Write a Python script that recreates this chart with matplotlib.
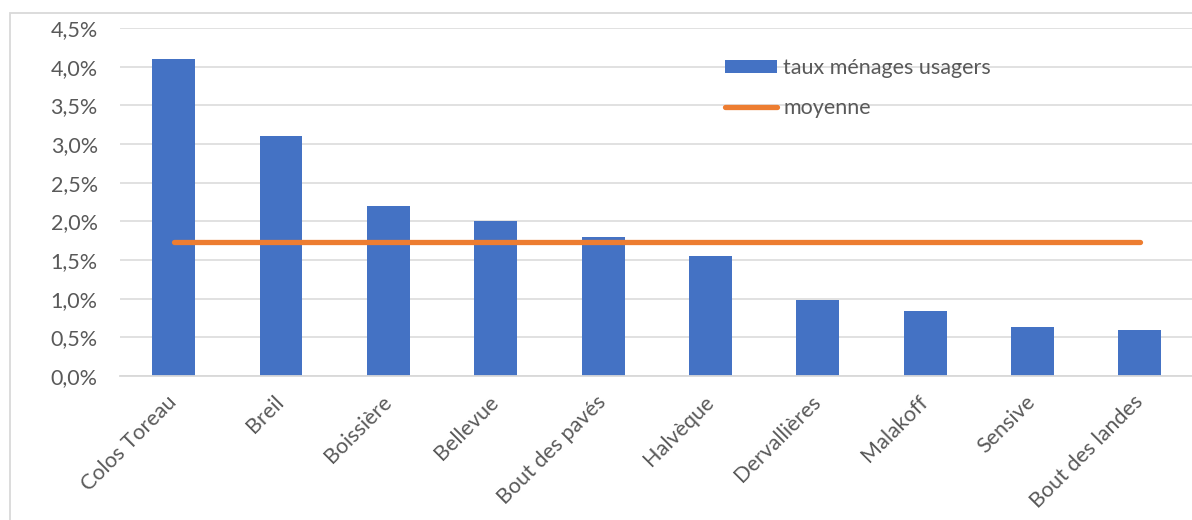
import matplotlib
matplotlib.use("Agg")
import matplotlib.pyplot as plt
from matplotlib.patches import Rectangle
from matplotlib.ticker import FuncFormatter
from matplotlib.transforms import ScaledTranslation

categories = ["Colos Toreau", "Breil", "Boissière", "Bellevue", "Bout des pavés",
              "Halvèque", "Dervallières", "Malakoff", "Sensive", "Bout des landes"]
taux = [4.10, 3.10, 2.20, 2.00, 1.80, 1.55, 0.98, 0.845, 0.64, 0.59]
moyenne = [1.73, 1.73, 1.73, 1.73, 1.73, 1.73, 1.73, 1.73, 1.73, 1.73]
yticks = [0.0, 0.5, 1.0, 1.5, 2.0, 2.5, 3.0, 3.5, 4.0, 4.5]

plt.rcParams['font.family'] = ['Lato', 'DejaVu Sans']
W, H = 1192, 520
AX_L, AX_R, AX_T, AX_B = 120, 1193.5, 28, 376
fig = plt.figure(figsize=(W / 100, H / 100), dpi=100)
ax = fig.add_axes([AX_L / W, 1 - AX_B / H, (AX_R - AX_L) / W, (AX_B - AX_T) / H])

FS = 15.5
x = list(range(len(categories)))
bars = ax.bar(x, taux, width=0.4, color="#4472C4", label="taux ménages usagers", zorder=2)
line, = ax.plot(x, moyenne, color="#ED7D31", linewidth=3.8, solid_capstyle="round",
                label="moyenne", zorder=3)

ax.set_xlim(-0.5, len(categories) - 0.5)
ax.set_ylim(0, 4.5)
ax.set_yticks(yticks)
ax.yaxis.set_major_formatter(FuncFormatter(lambda v, p: f"{v:.1f}%".replace(".", ",")))
ax.grid(axis="y", color="#D9D9D9", linewidth=1.1, zorder=0)
ax.set_axisbelow(True)
for s in ["top", "right", "left"]:
    ax.spines[s].set_visible(False)
ax.spines["bottom"].set_color("#D9D9D9")
ax.spines["bottom"].set_linewidth(1.3)

ax.set_xticks(x)
ax.set_xticklabels(categories, rotation=45, ha="right", rotation_mode="default")
ax.tick_params(axis="both", length=0, labelsize=FS, labelcolor="#595959")
ax.tick_params(axis="x", pad=10)
ax.tick_params(axis="y", pad=16)
off = ScaledTranslation(7 / 100, -2 / 100, fig.dpi_scale_trans)
for lbl in ax.get_xticklabels():
    lbl.set_transform(lbl.get_transform() + off)

leg = ax.legend(handles=[bars, line], loc="upper left",
                bbox_to_anchor=((725 - AX_L) / (AX_R - AX_L), 1 - (58 - AX_T) / (AX_B - AX_T)),
                frameon=False, fontsize=FS, handlelength=2.42, handleheight=0.56,
                handletextpad=0.28, labelspacing=0.93, borderpad=0, borderaxespad=0)
for t in leg.get_texts():
    t.set_color("#595959")

fig.patches.append(Rectangle((10 / W, -0.1), 1.2, 1.1 - 13 / H,
                             transform=fig.transFigure, fill=False,
                             edgecolor="#D9D9D9", linewidth=1.3))

fig.savefig("out.png", dpi=100)
